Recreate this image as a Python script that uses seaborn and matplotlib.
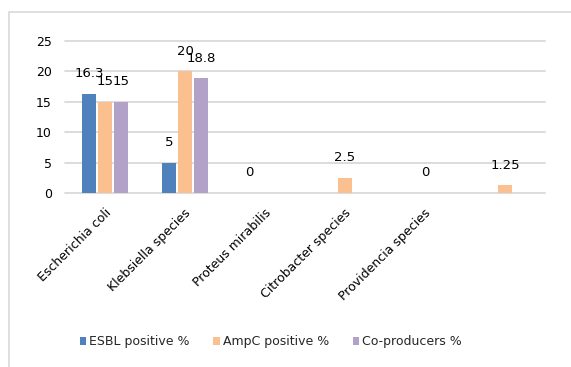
import numpy as np
import pandas as pd
import seaborn as sns
import matplotlib
matplotlib.use("Agg")
import matplotlib.pyplot as plt
import matplotlib.transforms as mtransforms
from matplotlib.patches import Patch, Rectangle

# Percentages per organism (blank cells -> NaN, no bar and no label)
organisms = ["Escherichia coli", "Klebsiella species", "Proteus mirabilis",
             "Citrobacter species", "Providencia species", ""]
esbl_pct = [16.3, 5, 0, np.nan, np.nan, np.nan]
ampc_pct = [15, 20, np.nan, 2.5, 0, 1.25]
coprod_pct = [15, 18.8, np.nan, np.nan, np.nan, np.nan]
series = ["ESBL positive %", "AmpC positive %", "Co-producers %"]
colors = ["#4F81BD", "#FAC090", "#B3A2C7"]
y_ticks = [0, 5, 10, 15, 20, 25]

df = pd.DataFrame({
    "Organism": organisms * 3,
    "Series": [s for s in series for _ in organisms],
    "Value": esbl_pct + ampc_pct + coprod_pct,
})

sns.set_style("white")
plt.rcParams["font.family"] = ["DejaVu Sans"]

W, H = 571, 367
fig = plt.figure(figsize=(W / 100, H / 100), dpi=100)
ax = fig.add_axes([65 / W, (H - 193) / H, 480 / W, 152.3 / H])

sns.barplot(data=df, x="Organism", y="Value", hue="Series",
            order=organisms, hue_order=series, palette=colors,
            saturation=1, width=0.6, gap=0.15, errorbar=None, linewidth=0,
            legend=False, ax=ax)

# Value labels above each drawn bar
for cont in ax.containers:
    for bar in cont:
        h = bar.get_height()
        if not np.isfinite(h):
            continue
        ax.annotate(f"{h:g}", (bar.get_x() + bar.get_width() / 2, h),
                    xytext=(0, 14.5), textcoords="offset points",
                    ha="center", va="center", fontsize=9.5, color="#000000")

ax.set_xlim(-0.5, len(organisms) - 0.5)
ax.set_ylim(0, 25)
ax.set_yticks(y_ticks)
ax.set_xlabel("")
ax.set_ylabel("")
ax.grid(axis="y", color="#D9D9D9", linewidth=1.3)
ax.set_axisbelow(True)
for gl in ax.get_ygridlines():
    gl.set_clip_on(False)
for sp in ax.spines.values():
    sp.set_visible(False)

ax.tick_params(axis="y", length=0, pad=9.5, labelsize=9, labelcolor="#000000")
ax.tick_params(axis="x", length=0, pad=13, labelsize=9, labelcolor="#000000")
shift = mtransforms.ScaledTranslation(4 / 100, 0, fig.dpi_scale_trans)
for lbl in ax.get_xticklabels():
    lbl.set_rotation(45)
    lbl.set_ha("right")
    lbl.set_va("center")
    lbl.set_rotation_mode("anchor")
    lbl.set_transform(lbl.get_transform() + shift)

handles = [Patch(facecolor=c, edgecolor="none", label=s) for c, s in zip(colors, series)]
fig.legend(handles=handles, loc="center", bbox_to_anchor=(0.474, 0.069),
           ncol=3, frameon=False, fontsize=9, handlelength=0.55,
           handleheight=0.55, handletextpad=0.2, columnspacing=1.9)

# Chart area border (only left and top edges fall inside the image)
fig.patches.append(Rectangle((9 / W, -1.0), 2.0, (H - 12) / H + 1.0,
                             transform=fig.transFigure, fill=False,
                             edgecolor="#D9D9D9", linewidth=1.2))

fig.savefig("out.png", dpi=100, facecolor="white")
